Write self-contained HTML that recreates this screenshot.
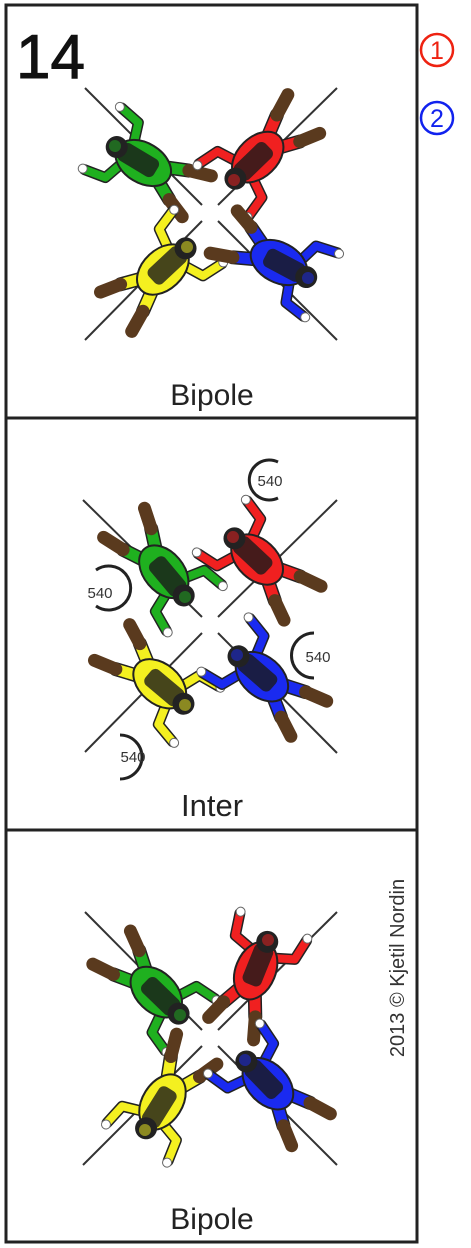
<!DOCTYPE html>
<html><head><meta charset="utf-8"><style>
html,body{margin:0;padding:0;background:#fff;width:471px;height:1248px;overflow:hidden}
svg{display:block}
text{font-family:"Liberation Sans",sans-serif}
</style></head><body>
<svg width="471" height="1248" viewBox="0 0 471 1248">
<defs>
<g id="fig">
  <path d="M55,-8 L76,-17" stroke="#222" stroke-width="14" stroke-linecap="round"/>
  <path d="M55,-8 L76,-17" stroke="currentColor" stroke-width="11" stroke-linecap="round"/>
  <path d="M76,-17 L98,-24" stroke="#5a3a1e" stroke-width="13" stroke-linecap="round"/>
  <path d="M55,8 L74,18" stroke="#222" stroke-width="14" stroke-linecap="round"/>
  <path d="M55,8 L74,18" stroke="currentColor" stroke-width="11" stroke-linecap="round"/>
  <path d="M74,18 L94,26" stroke="#5a3a1e" stroke-width="13" stroke-linecap="round"/>
  <path d="M14,-14 L8,-32 L-14,-36" fill="none" stroke="#222" stroke-width="11" stroke-linejoin="round" stroke-linecap="round"/>
  <path d="M14,-14 L8,-32 L-14,-36" fill="none" stroke="currentColor" stroke-width="8" stroke-linejoin="round" stroke-linecap="round"/>
  <path d="M14,14 L8,32 L-14,36" fill="none" stroke="#222" stroke-width="11" stroke-linejoin="round" stroke-linecap="round"/>
  <path d="M14,14 L8,32 L-14,36" fill="none" stroke="currentColor" stroke-width="8" stroke-linejoin="round" stroke-linecap="round"/>
  <circle cx="-16" cy="-36" r="4.5" fill="#fff" stroke="#666"/>
  <circle cx="-16" cy="36" r="4.5" fill="#fff" stroke="#666"/>
  <ellipse cx="33" cy="0" rx="30" ry="20" fill="currentColor" stroke="#222" stroke-width="2"/>
  <rect x="6" y="-10" width="42" height="20" rx="6" fill="#1a1a1a" opacity="0.8"/>
  <circle cx="2" cy="0" r="11" fill="#222"/>
  <circle cx="0" cy="0" r="6" fill="currentColor" opacity="0.5"/>
</g>
</defs>

<rect x="6" y="5" width="411" height="1237" fill="none" stroke="#222" stroke-width="3"/>
<line x1="6" y1="418" x2="417" y2="418" stroke="#222" stroke-width="3"/>
<line x1="6" y1="830" x2="417" y2="830" stroke="#222" stroke-width="3"/>

<text x="16" y="78" font-size="62" fill="#111" stroke="#111" stroke-width="1">14</text>
<g>
<circle cx="437" cy="50" r="16" fill="none" stroke="#e21" stroke-width="2.5"/>
<text x="437" y="59" font-size="25" fill="#e21" text-anchor="middle">1</text></g>
<g>
<circle cx="437" cy="118" r="16" fill="none" stroke="#12e" stroke-width="2.5"/>
<text x="437" y="127" font-size="25" fill="#12e" text-anchor="middle">2</text></g>

<g>
<line x1="85" y1="88" x2="202" y2="205" stroke="#333" stroke-width="2"/>
<line x1="218" y1="221" x2="337" y2="340" stroke="#333" stroke-width="2"/>
<line x1="337" y1="88" x2="218" y2="205" stroke="#333" stroke-width="2"/>
<line x1="202" y1="221" x2="85" y2="340" stroke="#333" stroke-width="2"/>
<g transform="translate(115,146) rotate(31)" color="#1fb01f"><use href="#fig"/></g>
<g transform="translate(234,180) rotate(-44)" color="#f02020"><use href="#fig"/></g>
<g transform="translate(187,247) rotate(137)" color="#f4f020"><use href="#fig"/></g>
<g transform="translate(308,278) rotate(-152)" color="#1a2af0"><use href="#fig"/></g>
<text x="212" y="405" font-size="30" fill="#222" text-anchor="middle">Bipole</text>
</g>

<g>
<line x1="83" y1="500" x2="202" y2="617" stroke="#333" stroke-width="2"/>
<line x1="218" y1="633" x2="337" y2="753" stroke="#333" stroke-width="2"/>
<line x1="337" y1="500" x2="218" y2="617" stroke="#333" stroke-width="2"/>
<line x1="202" y1="633" x2="85" y2="752" stroke="#333" stroke-width="2"/>
<g transform="translate(185,597) rotate(-130)" color="#1fb01f"><use href="#fig"/></g>
<g transform="translate(233,537) rotate(43)" color="#f02020"><use href="#fig"/></g>
<g transform="translate(185,705) rotate(-140)" color="#f4f020"><use href="#fig"/></g>
<g transform="translate(237,655) rotate(41)" color="#1a2af0"><use href="#fig"/></g>
<g>
<path d="M278,462 A20,20 0 1 0 278,498" fill="none" stroke="#222" stroke-width="3"/>
<text x="270" y="486" font-size="15" fill="#333" text-anchor="middle">540</text></g>
<g>
<path d="M96,570 A22,22 0 1 1 96,606" fill="none" stroke="#222" stroke-width="3"/>
<text x="100" y="598" font-size="15" fill="#333" text-anchor="middle">540</text></g>
<g>
<path d="M314,633 A22,22 0 1 0 314,678" fill="none" stroke="#222" stroke-width="3"/>
<text x="318" y="662" font-size="15" fill="#333" text-anchor="middle">540</text></g>
<g>
<path d="M120,735 A22,22 0 1 1 120,779" fill="none" stroke="#222" stroke-width="3"/>
<text x="133" y="762" font-size="15" fill="#333" text-anchor="middle">540</text></g>
<text x="212" y="816" font-size="31" fill="#222" text-anchor="middle">Inter</text>
</g>

<g>
<line x1="85" y1="912" x2="202" y2="1030" stroke="#333" stroke-width="2"/>
<line x1="218" y1="1046" x2="337" y2="1165" stroke="#333" stroke-width="2"/>
<line x1="337" y1="912" x2="218" y2="1030" stroke="#333" stroke-width="2"/>
<line x1="202" y1="1046" x2="83" y2="1165" stroke="#333" stroke-width="2"/>
<g transform="translate(180,1015) rotate(-136)" color="#1fb01f"><use href="#fig"/></g>
<g transform="translate(268,940) rotate(112)" color="#f02020"><use href="#fig"/></g>
<g transform="translate(145,1130) rotate(-58)" color="#f4f020"><use href="#fig"/></g>
<g transform="translate(245,1060) rotate(46)" color="#1a2af0"><use href="#fig"/></g>
<text x="212" y="1229" font-size="30" fill="#222" text-anchor="middle">Bipole</text>
</g>

<text transform="translate(404,968) rotate(-90)" font-size="20" fill="#333" text-anchor="middle">2013 © Kjetil Nordin</text>
</svg>
</body></html>
